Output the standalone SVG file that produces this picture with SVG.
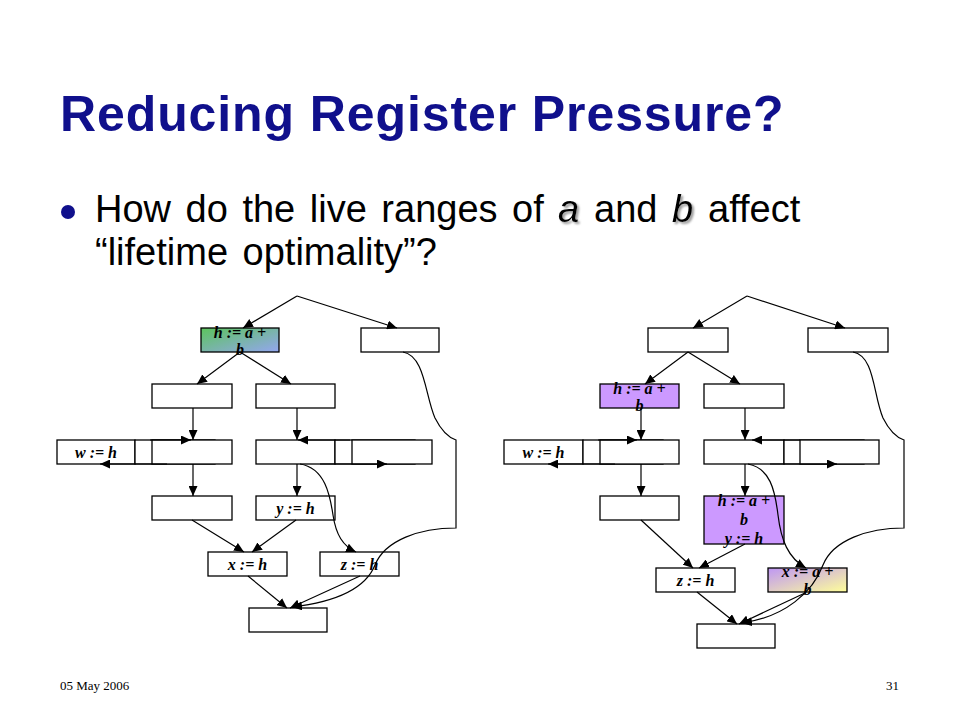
<svg xmlns="http://www.w3.org/2000/svg" width="960" height="720" viewBox="0 0 960 720">
<style>
.nd{fill:#fff;stroke:#000;stroke-width:1.3}
.lb{font-family:"Liberation Serif","Times New Roman",serif;font-weight:bold;font-style:italic;font-size:16px;fill:#000;text-anchor:middle}
.cn{fill:none;stroke:#000;stroke-width:1.2}
.ttl{font-family:"Liberation Sans",Arial,sans-serif;font-weight:bold;font-size:50px;fill:#10108c;letter-spacing:0.9px}
.bl{font-family:"Liberation Sans",Arial,sans-serif;font-size:38px;fill:#000;word-spacing:4px}
.it{font-style:italic}
.ft{font-family:"Liberation Serif","Times New Roman",serif;font-size:13px;fill:#000}
</style>
<defs>
<marker id="ah" markerUnits="userSpaceOnUse" markerWidth="10" markerHeight="9" refX="10" refY="4.5" orient="auto">
<path d="M0,0 L10,4.5 L0,9 z" fill="#000"/>
</marker>
<linearGradient id="gb" x1="0" y1="0" x2="1" y2="1">
<stop offset="0" stop-color="#5cc45c"/>
<stop offset="1" stop-color="#94a6f0"/>
</linearGradient>
<linearGradient id="py" x1="0" y1="0" x2="1" y2="1">
<stop offset="0" stop-color="#be96f4"/>
<stop offset="1" stop-color="#ffff99"/>
</linearGradient>
<filter id="sh" x="-20%" y="-20%" width="160%" height="160%">
<feDropShadow dx="2" dy="2" stdDeviation="1" flood-color="#808080" flood-opacity="0.8"/>
</filter>
</defs>
<rect width="960" height="720" fill="#fff"/>

<text class="ttl" x="60" y="131">Reducing Register Pressure?</text>
<circle cx="68" cy="212" r="7" fill="#10108c"/>
<text class="bl" x="95" y="222">How do the live ranges of</text>
<text class="bl it" x="558" y="222" filter="url(#sh)">a</text>
<text class="bl" x="594" y="222">and</text>
<text class="bl it" x="672" y="222" filter="url(#sh)">b</text>
<text class="bl" x="708" y="222">affect</text>
<text class="bl" x="95" y="265">“lifetime optimality”?</text>

<g id="left-nodes">
<g id="L1"><rect class="nd" x="201" y="328" width="78" height="24" style="fill:url(#gb)"/><text class="lb" x="240" y="338">h := a +</text><text class="lb" x="240" y="355">b</text></g>
<g id="L2"><rect class="nd" x="361" y="328" width="78" height="24"/></g>
<g id="L3"><rect class="nd" x="152" y="384" width="80" height="24"/></g>
<g id="L4"><rect class="nd" x="256" y="384" width="79" height="24"/></g>
<g id="L5"><rect class="nd" x="57" y="440" width="78" height="24"/><text class="lb" x="96" y="457.5">w := h</text></g>
<g id="L6"><rect class="nd" x="135" y="440" width="80" height="24"/></g>
<g id="L7"><rect class="nd" x="152" y="440" width="80" height="24"/></g>
<g id="L8"><rect class="nd" x="256" y="440" width="79" height="24"/></g>
<g id="L9"><rect class="nd" x="335" y="440" width="80" height="24"/></g>
<g id="L10"><rect class="nd" x="352" y="440" width="80" height="24"/></g>
<g id="L11"><rect class="nd" x="152" y="496" width="80" height="24"/></g>
<g id="L12"><rect class="nd" x="256" y="496" width="79" height="24"/><text class="lb" x="295.5" y="513.5">y := h</text></g>
<g id="L13"><rect class="nd" x="208" y="552" width="79" height="24"/><text class="lb" x="247.5" y="569.5">x := h</text></g>
<g id="L14"><rect class="nd" x="320" y="552" width="79" height="24"/><text class="lb" x="359.5" y="569.5">z := h</text></g>
<g id="L15"><rect class="nd" x="249" y="608" width="78" height="24"/></g>
</g>

<g id="right-nodes">
<g id="R1"><rect class="nd" x="648" y="328" width="80" height="24"/></g>
<g id="R2"><rect class="nd" x="808" y="328" width="80" height="24"/></g>
<g id="R3"><rect class="nd" x="600" y="384" width="79" height="24" style="fill:#cc99ff"/><text class="lb" x="639.5" y="394">h := a +</text><text class="lb" x="639.5" y="411">b</text></g>
<g id="R4"><rect class="nd" x="704" y="384" width="80" height="24"/></g>
<g id="R5"><rect class="nd" x="504" y="440" width="79" height="24"/><text class="lb" x="543.5" y="457.5">w := h</text></g>
<g id="R6"><rect class="nd" x="583" y="440" width="80" height="24"/></g>
<g id="R7"><rect class="nd" x="600" y="440" width="79" height="24"/></g>
<g id="R8"><rect class="nd" x="704" y="440" width="80" height="24"/></g>
<g id="R9"><rect class="nd" x="784" y="440" width="80" height="24"/></g>
<g id="R10"><rect class="nd" x="800" y="440" width="79" height="24"/></g>
<g id="R11"><rect class="nd" x="600" y="496" width="79" height="24"/></g>
<g id="R12"><rect class="nd" x="704" y="496" width="80" height="48" style="fill:#cc99ff"/><text class="lb" x="744" y="506">h := a +</text><text class="lb" x="744" y="525">b</text><text class="lb" x="744" y="544">y := h</text></g>
<g id="R13"><rect class="nd" x="656" y="568" width="79" height="24"/><text class="lb" x="695.5" y="585.5">z := h</text></g>
<g id="R14"><rect class="nd" x="768" y="568" width="79" height="24" style="fill:url(#py)"/><text class="lb" x="807.5" y="577">x := a +</text><text class="lb" x="807.5" y="595">b</text></g>
<g id="R15"><rect class="nd" x="697" y="624" width="78" height="24"/></g>
</g>

<g id="connectors">
<path class="cn" marker-end="url(#ah)" d="M297,296 L243,328"/>
<path class="cn" marker-end="url(#ah)" d="M297,296 L397,328"/>
<path class="cn" marker-end="url(#ah)" d="M240,352 L197,384"/>
<path class="cn" marker-end="url(#ah)" d="M240,352 L291,384"/>
<path class="cn" marker-end="url(#ah)" d="M193,408 L193,440"/>
<path class="cn" marker-end="url(#ah)" d="M297,408 L297,440"/>
<path class="cn" marker-end="url(#ah)" d="M150,440 L191,440"/>
<path class="cn" marker-end="url(#ah)" d="M167,464 L100,464"/>
<path class="cn" marker-end="url(#ah)" d="M350,440 L298,440"/>
<path class="cn" marker-end="url(#ah)" d="M320,464 L387,464"/>
<path class="cn" marker-end="url(#ah)" d="M193,464 L193,496"/>
<path class="cn" marker-end="url(#ah)" d="M297,464 L297,496"/>
<path class="cn" marker-end="url(#ah)" d="M192,520 L244,552"/>
<path class="cn" marker-end="url(#ah)" d="M296,520 L252,552"/>
<path class="cn" marker-end="url(#ah)" d="M300,464 C325,468 330,495 333,515 C336,535 343,546 356,552"/>
<path class="cn" marker-end="url(#ah)" d="M403,352 C425,356 425,395 435,418 C442,432 450,438 456,440 L456,528 C420,528 385,540 375,565 C365,590 335,602 292,607"/>
<path class="cn" marker-end="url(#ah)" d="M248,576 L287,608"/>
<path class="cn" marker-end="url(#ah)" d="M360,576 L290,608"/>

<path class="cn" marker-end="url(#ah)" d="M747,296 L693,328"/>
<path class="cn" marker-end="url(#ah)" d="M747,296 L845,328"/>
<path class="cn" marker-end="url(#ah)" d="M688,352 L645,384"/>
<path class="cn" marker-end="url(#ah)" d="M688,352 L740,384"/>
<path class="cn" marker-end="url(#ah)" d="M641,408 L641,440"/>
<path class="cn" marker-end="url(#ah)" d="M745,408 L745,440"/>
<path class="cn" marker-end="url(#ah)" d="M598,440 L637,440"/>
<path class="cn" marker-end="url(#ah)" d="M615,464 L548,464"/>
<path class="cn" marker-end="url(#ah)" d="M800,440 L752,440"/>
<path class="cn" marker-end="url(#ah)" d="M770,464 L837,464"/>
<path class="cn" marker-end="url(#ah)" d="M641,464 L641,496"/>
<path class="cn" marker-end="url(#ah)" d="M745,464 L745,496"/>
<path class="cn" marker-end="url(#ah)" d="M641,520 L693,568"/>
<path class="cn" marker-end="url(#ah)" d="M745,544 L699,568"/>
<path class="cn" marker-end="url(#ah)" d="M748,464 C770,468 775,490 778,515 C781,540 788,558 806,568"/>
<path class="cn" marker-end="url(#ah)" d="M853,352 C875,356 873,395 883,418 C890,432 898,438 904,440 L904,528 C868,528 833,540 823,565 C813,592 785,617 742,623"/>
<path class="cn" marker-end="url(#ah)" d="M697,592 L737,624"/>
<path class="cn" marker-end="url(#ah)" d="M805,593 L739,624"/>
</g>

<text class="ft" x="60" y="690">05 May 2006</text>
<text class="ft" x="899" y="690" text-anchor="end">31</text>
</svg>
